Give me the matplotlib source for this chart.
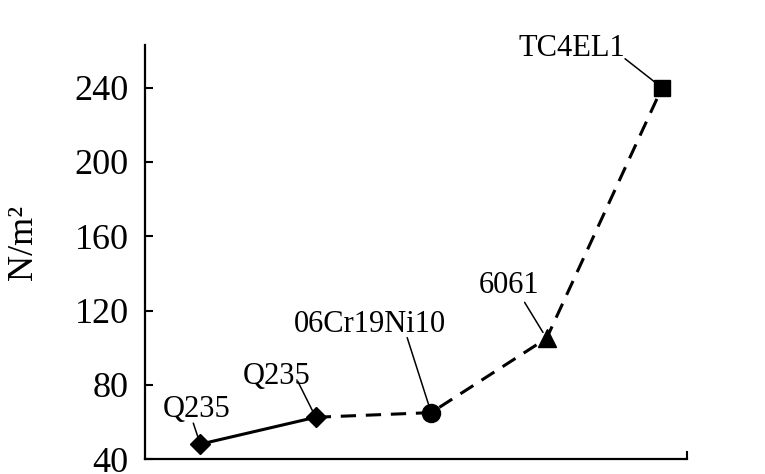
import matplotlib
matplotlib.use("Agg")
from matplotlib import pyplot as plt

plt.rcParams['font.family'] = ['Liberation Serif', 'DejaVu Serif']

materials = ['Q235', 'Q235', '06Cr19Ni10', '6061', 'TC4EL1']
values = [48, 62.5, 65, 105, 240]
markers = ['D', 'D', 'o', '^', 's']
marker_sizes = [10, 10, 13, 13, 12]
yticks = [40, 80, 120, 160, 200, 240]

# label text offsets and leader-line start offsets (pixels from the point)
text_offsets = [(-4, 27), (-39, 33), (-61, 81), (-38, 45), (-90, 32)]
line_starts = [(-7, 21), (-18, 36), (-24, 75), (-22, 36), (-37, 29)]

fig = plt.figure(figsize=(7.65, 4.74), dpi=100)
ax = fig.add_axes([0.19, 0.0316, 0.708, 0.8734])

x = list(range(len(values)))

# solid segment between the two Q235 points, dashed for the rest
ax.plot(x[:2], values[:2], color='black', lw=2.2, solid_capstyle='butt')
ax.plot(x[1:], values[1:], color='black', lw=2.2, dashes=(5, 3.2))

for i in x:
    ax.plot(x[i], values[i], marker=markers[i], ms=marker_sizes[i],
            color='black', mec='black', ls='none', zorder=3)
    ax.annotate(materials[i], xy=(x[i], values[i]), xytext=text_offsets[i],
                textcoords='offset pixels', ha='center', va='baseline',
                fontsize=22)
    ax.annotate('', xy=(x[i], values[i]), xytext=line_starts[i],
                textcoords='offset pixels',
                arrowprops=dict(arrowstyle='-', color='black', lw=1.1,
                                shrinkA=0, shrinkB=5))

ax.set_xlim(-0.476, 4.216)
ax.set_ylim(40, 263)
ax.set_yticks(yticks)
ax.set_yticklabels([str(v) for v in yticks])
ax.set_xticks([4.216])
ax.set_xticklabels([''])
ax.tick_params(axis='both', direction='in', length=6, width=1.5,
               labelsize=26, pad=12)
ax.set_ylabel('N/m²', fontsize=26)
ax.yaxis.set_label_coords(-0.194, 0.524)

for side in ['top', 'right']:
    ax.spines[side].set_visible(False)
for side in ['left', 'bottom']:
    ax.spines[side].set_linewidth(1.6)

fig.savefig('out.png', dpi=100)
